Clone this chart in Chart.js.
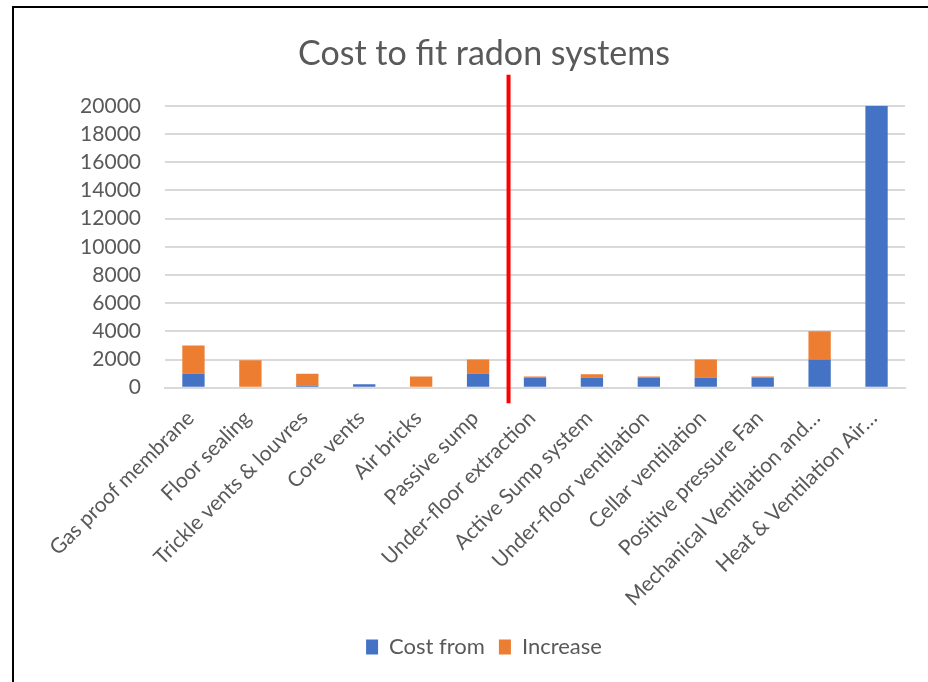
<!DOCTYPE html>
<html>
<head>
<meta charset="utf-8">
<script src="https://cdn.jsdelivr.net/npm/chart.js@4.4.1/dist/chart.umd.min.js"></script>
<style>
    html, body { margin: 0; padding: 0; background: #fff; overflow: hidden; }
    #wrap { position: relative; width: 928px; height: 682px; }
    #frame {
        position: absolute; left: 12px; top: 6px; width: 1000px; height: 1000px;
        border-left: 2.5px solid #000; border-top: 2.5px solid #000;
        box-sizing: border-box; pointer-events: none;
    }
    canvas { position: absolute; left: 0; top: 0; }
</style>
</head>
<body>
<div id="wrap">
    <canvas id="chart" width="928" height="682"></canvas>
    <div id="frame"></div>
</div>
<script>
// chart data
const categories = [
    'Gas proof membrane',
    'Floor sealing',
    'Trickle vents & louvres',
    'Core vents',
    'Air bricks',
    'Passive sump',
    'Under-floor extraction',
    'Active Sump system',
    'Under-floor ventilation',
    'Cellar ventilation',
    'Positive pressure Fan',
    'Mechanical Ventilation and\u2026',
    'Heat & Ventilation Air\u2026',
];
const costFrom = [1000, 0, 150, 250, 0, 1000, 700, 700, 700, 700, 700, 2000, 20000];
const increase = [2000, 1950, 850, 0, 800, 1000, 100, 250, 100, 1300, 100, 2000, 0];

const yTicks = { min: 0, max: 20000, step: 2000 };

// red divider between passive and active systems
const divider = { afterIndex: 5, top: 22200, bottom: -1100 };

const FONT = 'Lato, "Noto Sans", sans-serif';
const TEXT = '#595959';
const GRID = '#d9d9d9';

const dividerPlugin = {
    id: 'divider',
    afterDatasetsDraw(chart) {
        const { ctx, scales: { x, y } } = chart;
        const px = (x.getPixelForValue(divider.afterIndex) + x.getPixelForValue(divider.afterIndex + 1)) / 2 + 2;
        ctx.save();
        ctx.strokeStyle = '#ff0000';
        ctx.lineWidth = 4;
        ctx.beginPath();
        ctx.moveTo(px, y.getPixelForValue(divider.top));
        ctx.lineTo(px, y.getPixelForValue(divider.bottom));
        ctx.stroke();
        ctx.restore();
    }
};

// truncated labels sit a bit further right, as in Excel
function labelShift(ctx) {
    const label = categories[ctx.index];
    return label && label.endsWith('\u2026') ? 9 : -3;
}

new Chart(document.getElementById('chart').getContext('2d'), {
    type: 'bar',
    data: {
        labels: categories,
        datasets: [
            { label: 'Cost from', data: costFrom, backgroundColor: '#4472c4' },
            { label: 'Increase', data: increase, backgroundColor: '#ed7d31' },
        ]
    },
    options: {
        responsive: false,
        animation: false,
        devicePixelRatio: 1,
        layout: { padding: { left: 63, right: 23, top: 26, bottom: 14 } },
        datasets: {
            bar: { categoryPercentage: 0.8, barPercentage: 0.49 }
        },
        plugins: {
            title: {
                display: true,
                text: 'Cost to fit radon systems',
                color: TEXT,
                font: { family: FONT, size: 34, weight: '400' },
                padding: { top: 8, bottom: 31 },
            },
            legend: {
                position: 'bottom',
                labels: {
                    color: TEXT,
                    font: { family: FONT, size: 22 },
                    boxWidth: 12,
                    boxHeight: 15,
                    padding: 14,
                }
            },
            tooltip: { enabled: false },
        },
        scales: {
            x: {
                stacked: true,
                grid: { display: false, drawTicks: false },
                border: { display: true, color: GRID, width: 2 },
                ticks: {
                    color: TEXT,
                    font: { family: FONT, size: 21 },
                    minRotation: 45,
                    maxRotation: 45,
                    autoSkip: false,
                    padding: 18,
                    labelOffset: labelShift,
                },
                afterFit(scale) {
                    scale.paddingLeft = 0;
                    scale.height -= 7;
                }
            },
            y: {
                stacked: true,
                min: yTicks.min,
                max: yTicks.max,
                grid: { color: GRID, lineWidth: 2, drawTicks: false },
                border: { display: false },
                ticks: {
                    stepSize: yTicks.step,
                    autoSkip: false,
                    color: TEXT,
                    font: { family: FONT, size: 21 },
                    padding: 24,
                    callback: (value) => String(value),
                },
                afterFit(scale) {
                    scale.width = 102;
                }
            }
        }
    },
    plugins: [dividerPlugin],
});
</script>
</body>
</html>
